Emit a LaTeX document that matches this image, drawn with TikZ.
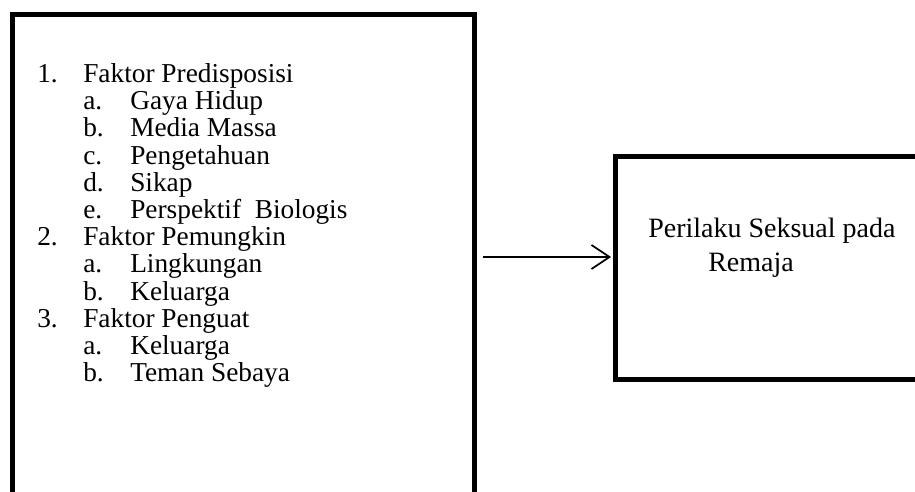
\documentclass[tikz,border=0pt]{standalone}
\usepackage{fontspec}
\setmainfont{Liberation Serif}
\usetikzlibrary{arrows.meta,fit}
\begin{document}
\begin{tikzpicture}[x=0.75pt,y=-0.75pt,
  box/.style={draw=black,line width=3.75pt,inner sep=0pt},
  lt/.style={anchor=base west,inner sep=0pt,font=\fontsize{20.5}{24}\selectfont},
  rt/.style={anchor=base west,inner sep=0pt,font=\fontsize{21}{24}\selectfont},
  arr/.style={line width=1.3pt,-{Straight Barb[length=13.5pt,width=18pt,line width=1.3pt]}}]
\useasboundingbox (0,0) rectangle (915,492);
\clip (0,0) rectangle (915,492);
\fill[white] (0,0) rectangle (915,492);
\coordinate (L1) at (12.5,14.5);
\coordinate (L2) at (474.5,530);
\node[box,fit=(L1)(L2)] (left) {};
\coordinate (R1) at (615.5,156.5);
\coordinate (R2) at (940,379.5);
\node[box,fit=(R1)(R2)] (right) {};
% list
\node[lt] (n1) at (37,82.5) {1.};
\node[lt] (t1) at (83,82.5) {Faktor Predisposisi};
\node[lt] (n1a) at (83,109.7) {a.};
\node[lt] (t1a) at (130,109.7) {Gaya Hidup};
\node[lt] (n1b) at (83,136.9) {b.};
\node[lt] (t1b) at (130,136.9) {Media Massa};
\node[lt] (n1c) at (83,164.1) {c.};
\node[lt] (t1c) at (130,164.1) {Pengetahuan};
\node[lt] (n1d) at (83,191.3) {d.};
\node[lt] (t1d) at (130,191.3) {Sikap};
\node[lt] (n1e) at (83,218.5) {e.};
\node[lt] (t1e) at (130,218.5) {Perspektif\ \ Biologis};
\node[lt] (n2) at (37,245.7) {2.};
\node[lt] (t2) at (83,245.7) {Faktor Pemungkin};
\node[lt] (n2a) at (83,272.9) {a.};
\node[lt] (t2a) at (130,272.9) {Lingkungan};
\node[lt] (n2b) at (83,300.1) {b.};
\node[lt] (t2b) at (130,300.1) {Keluarga};
\node[lt] (n3) at (37,327.3) {3.};
\node[lt] (t3) at (83,327.3) {Faktor Penguat};
\node[lt] (n3a) at (83,354.5) {a.};
\node[lt] (t3a) at (130,354.5) {Keluarga};
\node[lt] (n3b) at (83,381.7) {b.};
\node[lt] (t3b) at (130,381.7) {Teman Sebaya};
% right text
\node[rt] (r1) at (648,237) {Perilaku Seksual pada};
\node[rt] (r2) at (708,271) {Remaja};
% arrow
\coordinate (as) at (483,257);
\draw[arr] (as) -- ([xshift=-1.5pt]as -| right.west);
\end{tikzpicture}
\end{document}
